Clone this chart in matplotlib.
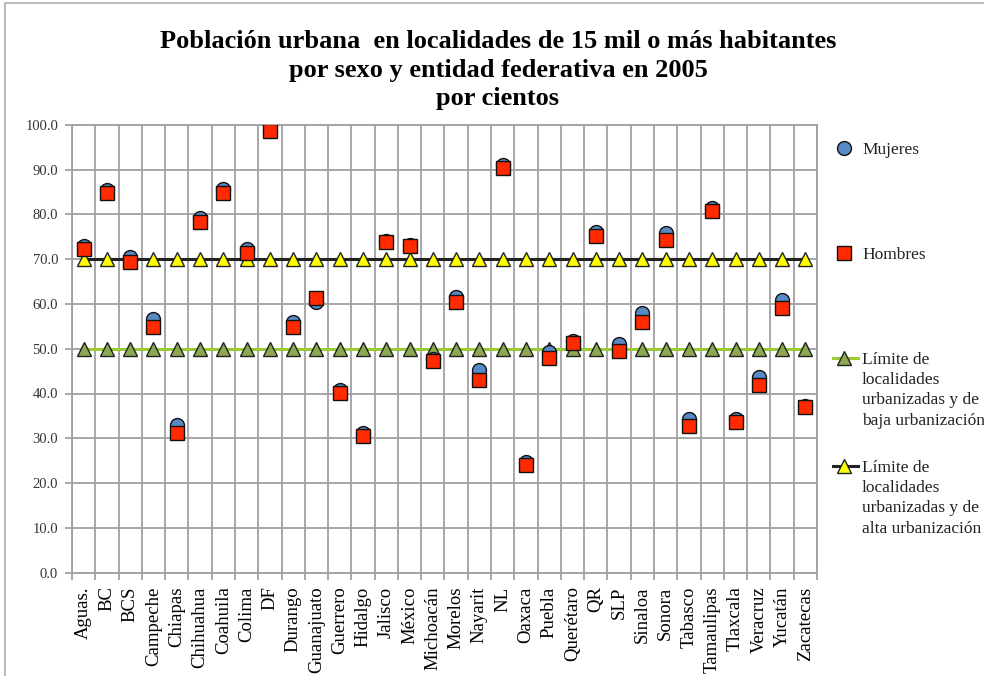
import numpy as np
import matplotlib
matplotlib.use("Agg")
import matplotlib.pyplot as plt
from matplotlib.lines import Line2D
from matplotlib.patches import Rectangle

plt.rcParams['font.family'] = ['Liberation Serif', 'DejaVu Serif']

# datos
estados = ['Aguas.', 'BC', 'BCS', 'Campeche', 'Chiapas', 'Chihuahua', 'Coahuila', 'Colima',
           'DF', 'Durango', 'Guanajuato', 'Guerrero', 'Hidalgo', 'Jalisco', 'México',
           'Michoacán', 'Morelos', 'Nayarit', 'NL', 'Oaxaca', 'Puebla', 'Querétaro', 'QR',
           'SLP', 'Sinaloa', 'Sonora', 'Tabasco', 'Tamaulipas', 'Tlaxcala', 'Veracruz',
           'Yucatán', 'Zacatecas']
mujeres = [72.9, 85.5, 70.6, 56.6, 33.0, 79.2, 85.8, 72.4, 98.7, 56.0, 60.4, 40.8, 31.2,
           74.0, 73.2, 47.7, 61.6, 45.3, 91.0, 24.8, 49.3, 51.8, 76.0, 51.0, 58.0, 75.9,
           34.3, 81.5, 34.2, 43.7, 61.0, 37.3]
hombres = [72.3, 84.8, 69.4, 54.9, 31.1, 78.3, 84.8, 71.4, 98.6, 54.9, 61.3, 40.1, 30.5,
           73.8, 72.9, 47.2, 60.4, 43.1, 90.3, 24.0, 47.9, 51.3, 75.3, 49.6, 55.9, 74.4,
           32.8, 80.7, 33.7, 41.9, 59.1, 36.9]
limite_baja = [50.0] * len(estados)
limite_alta = [70.0] * len(estados)

W, H = 984, 676
fig = plt.figure(figsize=(W / 100, H / 100), dpi=100)
ax = fig.add_axes([72 / W, 1 - 572.5 / H, (817 - 72) / W, (572.5 - 125) / H])

x = np.arange(len(estados))
verde = '#9ACD32'
estilo_baja = dict(color=verde, lw=2.2, marker='^', ms=9.5, mfc='#8DA84E', mec='#222222', mew=1)
estilo_alta = dict(color='#222222', lw=2.2, marker='^', ms=9.5, mfc='#FFFF00', mec='#222222', mew=1)
estilo_muj = dict(ls='none', marker='o', ms=10, mfc='#5A8AC6', mec='#111111', mew=1)
estilo_hom = dict(ls='none', marker='s', ms=9.5, mfc='#FF2A00', mec='#111111', mew=1)

ax.plot(x, limite_baja, zorder=3, **estilo_baja)
ax.plot(x, limite_alta, zorder=3, **estilo_alta)
ax.plot(x, mujeres, zorder=4, **estilo_muj)
ax.plot(x, hombres, zorder=5, **estilo_hom)

ax.set_xlim(-0.5, len(estados) - 0.5)
ax.set_ylim(0, 100)
ax.set_yticks(np.arange(0, 101, 10))
ax.set_yticklabels(['%.1f' % v for v in np.arange(0, 101, 10)], fontsize=10.5, color='#333333')
ax.set_xticks(x)
ax.set_xticklabels(estados, rotation=90, fontsize=13.5)
ax.set_xticks(np.arange(-0.5, len(estados)), minor=True)
ax.tick_params(axis='x', which='major', length=0, pad=10)
ax.tick_params(axis='x', which='minor', length=5, color='#999999', width=1.2)
ax.tick_params(axis='y', length=5, color='#999999', width=1.2, pad=5)
ax.grid(True, axis='y', color='#A0A0A0', lw=1.3)
ax.grid(True, axis='x', which='minor', color='#A0A0A0', lw=1.3)
ax.set_axisbelow(True)
for s in ax.spines.values():
    s.set_color('#A0A0A0')
    s.set_linewidth(1.3)

fig.text(498 / W, 1 - 70 / H,
         'Población urbana  en localidades de 15 mil o más habitantes\n'
         'por sexo y entidad federativa en 2005\npor cientos',
         ha='center', va='center', fontsize=19, fontweight='bold', linespacing=1.3)

# leyenda manual
def px(xp, yp):
    return xp / W, 1 - yp / H

entradas = [
    (148, estilo_muj, 'Mujeres'),
    (253, estilo_hom, 'Hombres'),
    (358, estilo_baja, 'Límite de\nlocalidades\nurbanizadas y de\nbaja urbanización'),
    (466, estilo_alta, 'Límite de\nlocalidades\nurbanizadas y de\nalta urbanización'),
]
for yp, estilo, texto in entradas:
    x0, y0 = px(833, yp)
    x1, _ = px(858, yp)
    if estilo.get('ls') != 'none':
        fig.add_artist(Line2D([x0, x1], [y0, y0], color=estilo['color'], lw=estilo['lw']))
    fig.add_artist(Line2D([(x0 + x1) / 2 - 2 / W], [y0], ls='none', marker=estilo['marker'],
                          ms=estilo['ms'], mfc=estilo['mfc'], mec=estilo['mec']))
    tx, ty = px(862, yp - 6)
    fig.text(tx, ty, texto, ha='left', va='top', fontsize=12.5, color='#222222', linespacing=1.35)

fig.add_artist(Rectangle((5 / W, -0.05), 1.1, 1 - 3 / H + 0.05, fill=False, ec='#BBBBBB', lw=1.5))

fig.savefig('out.png', dpi=100)
